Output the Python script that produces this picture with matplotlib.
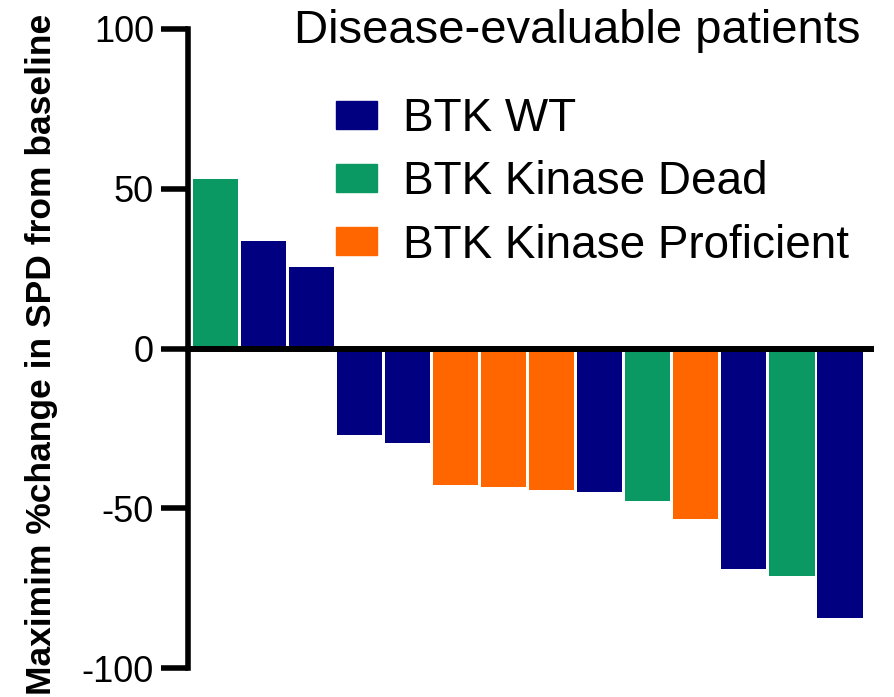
import matplotlib
matplotlib.use('Agg')
import matplotlib.pyplot as plt
from matplotlib.patches import Patch

plt.rcParams['font.family'] = ['Liberation Sans', 'DejaVu Sans']

# max % change in SPD per patient, sorted as in the waterfall
change = [53.0, 33.8, 25.4, -27.0, -29.6, -42.6, -43.2, -44.2, -45.0,
          -47.6, -53.3, -69.0, -71.2, -84.4]
group = ['KD', 'WT', 'WT', 'WT', 'WT', 'KP', 'KP', 'KP', 'WT',
         'KD', 'KP', 'WT', 'KD', 'WT']
group_names = {'WT': 'BTK WT', 'KD': 'BTK Kinase Dead', 'KP': 'BTK Kinase Proficient'}
group_colors = {'WT': '#000080', 'KD': '#0B9963', 'KP': '#FF6600'}
yticks = [-100, -50, 0, 50, 100]

fig = plt.figure(figsize=(8.94, 6.97), dpi=100)
ax = fig.add_axes([188/894, 1-668/697, (871-188)/894, (668-29)/697])

x = list(range(len(change)))
ax.bar(x, change, width=0.94, color=[group_colors[g] for g in group], zorder=2)

ax.set_xlim(-0.573, len(change) - 1 + 0.646)
ax.set_ylim(-100, 100)
ax.set_yticks(yticks)
ax.set_yticklabels([str(t) for t in yticks], fontsize=26)
ax.tick_params(axis='y', length=19.5, width=4, pad=5)
ax.set_xticks([])

for s in ['top', 'right']:
    ax.spines[s].set_visible(False)
ax.spines['left'].set_linewidth(4)
ax.spines['bottom'].set_position(('data', 0))
ax.spines['bottom'].set_linewidth(4.3)
ax.spines['bottom'].set_zorder(3)
ax.spines['left'].set_zorder(3)

# y label drawn on the figure so it can run the full height
fig.text(42/894, 1-354/697, 'Maximim %change in SPD from baseline', rotation=90,
         fontsize=25.5, fontweight='bold', ha='center', va='center')

fig.text(577/894, 1-31/697, 'Disease-evaluable patients', fontsize=34,
         ha='center', va='center')

handles = [Patch(color=group_colors[k], label=group_names[k]) for k in ['WT', 'KD', 'KP']]
fig.legend(handles=handles, loc='upper left', bbox_to_anchor=(336/894, 1-97/697),
           frameon=False, fontsize=33, handlelength=0.9, handleheight=0.55,
           handletextpad=0.57, labelspacing=0.42, borderpad=0, borderaxespad=0)

fig.savefig('out.png', dpi=100)
